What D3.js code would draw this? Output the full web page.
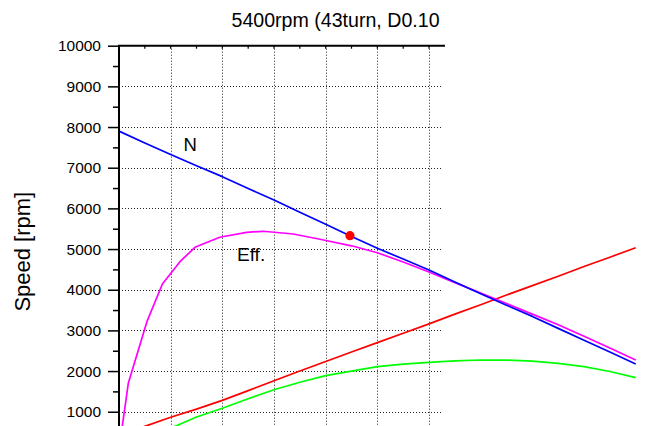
<!DOCTYPE html>
<html>
<head>
<meta charset="utf-8">
<script src="https://cdn.jsdelivr.net/npm/d3@7"></script>
<style>
  html, body { margin: 0; padding: 0; background: #fff; }
  svg { display: block; font-family: "Liberation Sans", Arial, sans-serif; }
</style>
</head>
<body>
<svg id="chart" width="649" height="426"></svg>
<script>
// ---- data ----
const title = "5400rpm (43turn, D0.10";
const yLabel = "Speed [rpm]";
const yMajorTicks = [1000, 2000, 3000, 4000, 5000, 6000, 7000, 8000, 9000, 10000];
const yMinorTicks = [1500, 2500, 3500, 4500, 5500, 6500, 7500, 8500, 9500];
const xGridTicks = [1, 2, 3, 4, 5, 6];
const xTopMinorTicks = [0.5, 1, 1.5, 2, 2.5, 3, 3.5, 4, 4.5, 5, 5.5, 6];

const speedX = [0, 0.5, 1, 1.5, 2, 2.5, 3, 3.5, 4, 4.5, 5, 5.5, 6, 6.5, 7, 7.5, 8, 8.5, 9, 9.5, 10];
const speedN = [7900, 7610, 7325, 7050, 6780, 6490, 6206, 5905, 5610, 5310, 5018, 4755, 4485, 4190, 3900, 3620, 3344, 3050, 2760, 2470, 2174];

const effX = [0.02, 0.18, 0.54, 0.84, 1.18, 1.47, 1.95, 2.47, 2.79, 3.37, 3.89, 4.5, 5, 5.5, 6, 6.5, 7, 7.5, 8, 8.5, 9, 9.5, 10];
const effV = [250, 1700, 3214, 4140, 4690, 5043, 5290, 5412, 5437, 5370, 5240, 5080, 4910, 4680, 4435, 4175, 3920, 3660, 3400, 3140, 2855, 2565, 2272];

const redX = [0, 0.5, 1, 1.5, 2, 2.5, 3, 3.5, 4, 4.5, 5, 5.5, 6, 6.5, 7, 7.5, 8, 8.5, 9, 9.5, 10];
const redV = [400, 640, 865, 1065, 1280, 1520, 1760, 2000, 2235, 2470, 2700, 2930, 3160, 3400, 3630, 3870, 4100, 4330, 4570, 4800, 5033];

const greenX = [0, 0.5, 1.1, 1.5, 2, 2.5, 3, 3.5, 4, 4.5, 5, 5.5, 6, 6.5, 7, 7.5, 8, 8.5, 9, 9.5, 10];
const greenV = [150, 400, 650, 870, 1084, 1320, 1540, 1725, 1886, 2000, 2107, 2170, 2215, 2250, 2272, 2268, 2245, 2190, 2110, 1990, 1837];

const markerX = [4.47];
const markerV = [5330];

const curveLabels = ["N", "Eff."];

// ---- layout ----
const svg = d3.select("#chart");
const x = d3.scaleLinear().domain([0, 10]).range([119, 635.7]);
const y = d3.scaleLinear().domain([0, 10000]).range([452.4, 45.7]);
const frameRight = 445;
const gridRight = 443;

// grid
const grid = svg.append("g").attr("stroke", "#222").attr("stroke-width", 1)
  .attr("stroke-dasharray", "1,2");
grid.selectAll("line.h").data(yMajorTicks.filter(d => d > 0 && d < 10000)).enter()
  .append("line")
  .attr("x1", x(0)).attr("x2", gridRight)
  .attr("y1", d => Math.round(y(d)) + 0.5).attr("y2", d => Math.round(y(d)) + 0.5);
grid.selectAll("line.v").data(xGridTicks).enter()
  .append("line")
  .attr("x1", d => Math.round(x(d)) + 0.5).attr("x2", d => Math.round(x(d)) + 0.5)
  .attr("y1", y(10000)).attr("y2", y(0));

// curves
const line = d3.line().x(d => x(d[0])).y(d => y(d[1]));
const series = [
  { xs: greenX, vs: greenV, color: "#00ff00" },
  { xs: redX, vs: redV, color: "#ff0000" },
  { xs: effX, vs: effV, color: "#ff00ff" },
  { xs: speedX, vs: speedN, color: "#0000ff" }
];
series.forEach(s => {
  svg.append("path")
    .datum(s.xs.map((v, i) => [v, s.vs[i]]))
    .attr("fill", "none")
    .attr("stroke", s.color)
    .attr("stroke-width", 1.7)
    .attr("stroke-linejoin", "round")
    .attr("d", line);
});

// marker
svg.selectAll("circle.m").data(markerX.map((v, i) => [v, markerV[i]])).enter()
  .append("circle")
  .attr("cx", d => x(d[0])).attr("cy", d => y(d[1])).attr("r", 4.6)
  .attr("fill", "#ff0000");

// left axis (domain extends to the bottom of the plot, below the visible window)
svg.append("line")
  .attr("x1", x(0)).attr("x2", x(0))
  .attr("y1", y(10000)).attr("y2", y(0))
  .attr("stroke", "#000").attr("stroke-width", 2);

const yAxisMinor = d3.axisLeft(y).tickValues(yMinorTicks).tickSize(6).tickSizeOuter(0).tickFormat("");
const gMinor = svg.append("g").attr("transform", "translate(" + x(0) + ",0)").call(yAxisMinor);
gMinor.select(".domain").remove();
gMinor.selectAll("line").attr("stroke", "#000").attr("stroke-width", 1.5);

const yAxis = d3.axisLeft(y).tickValues(yMajorTicks).tickSize(11).tickPadding(7).tickSizeOuter(0)
  .tickFormat(d3.format("d"));
const gAxis = svg.append("g").attr("transform", "translate(" + x(0) + ",0)").call(yAxis);
gAxis.select(".domain").remove();
gAxis.selectAll(".tick line").attr("stroke", "#000").attr("stroke-width", 1.5);
gAxis.selectAll(".tick text")
  .attr("fill", "#000")
  .style("font-family", "'Liberation Sans', Arial, sans-serif")
  .style("font-size", "15.5px");

// top frame
svg.append("line")
  .attr("x1", x(0) - 1).attr("x2", frameRight)
  .attr("y1", y(10000)).attr("y2", y(10000))
  .attr("stroke", "#000").attr("stroke-width", 2);
svg.selectAll("line.tt").data(xTopMinorTicks).enter()
  .append("line")
  .attr("x1", d => x(d)).attr("x2", d => x(d))
  .attr("y1", y(10000)).attr("y2", y(10000) + 3)
  .attr("stroke", "#000").attr("stroke-width", 1.2);

// title
svg.append("text")
  .attr("x", 231.5).attr("y", 27.3)
  .style("font-size", "19.6px")
  .attr("fill", "#000")
  .text(title);

// y label
svg.append("text")
  .attr("transform", "translate(29.8,251.7) rotate(-90)")
  .attr("text-anchor", "middle")
  .style("font-size", "22px")
  .attr("fill", "#000")
  .text(yLabel);

// curve labels
svg.append("text").attr("x", 183.5).attr("y", 150.7)
  .style("font-size", "18.5px").attr("fill", "#000").text(curveLabels[0]);
svg.append("text").attr("x", 237).attr("y", 260.7)
  .style("font-size", "19px").attr("fill", "#000").text(curveLabels[1]);
</script>
</body>
</html>
